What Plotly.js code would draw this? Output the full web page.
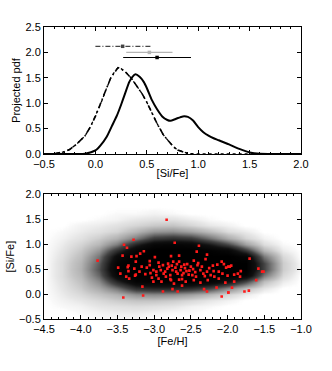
<!DOCTYPE html>
<html>
<head>
<meta charset="utf-8">
<script src="https://cdn.plot.ly/plotly-3.0.1.min.js"></script>
<style>html,body{margin:0;padding:0;background:#fff;}#chart{width:332px;height:371px;}</style>
</head>
<body>
<div id="chart"></div>
<script>
// ---------- Top panel: projected pdfs ----------
var solidX = [-0.5,-0.2,-0.1,0.0,0.05,0.11,0.16,0.21,0.25,0.29,0.33,0.36,0.39,0.43,0.47,0.5,0.55,0.6,0.65,0.7,0.73,0.78,0.85,0.9,0.95,1.0,1.05,1.1,1.15,1.2,1.3,1.4,1.5,1.6,1.7,2.0];
var solidY = [0,0,0.005,0.07,0.17,0.34,0.55,0.76,0.97,1.2,1.42,1.52,1.57,1.52,1.42,1.3,1.06,0.88,0.74,0.67,0.655,0.69,0.74,0.73,0.66,0.53,0.43,0.36,0.31,0.27,0.19,0.1,0.03,0.003,0,0];

var dashX = [-0.4,-0.31,-0.25,-0.18,-0.1,-0.05,0.0,0.05,0.1,0.15,0.19,0.22,0.25,0.3,0.35,0.4,0.45,0.5,0.56,0.6,0.66,0.71,0.76,0.8,0.86,0.9,0.95];
var dashY = [0.005,0.04,0.09,0.2,0.36,0.53,0.74,0.98,1.25,1.5,1.63,1.70,1.68,1.6,1.49,1.34,1.2,1.02,0.76,0.6,0.38,0.25,0.14,0.08,0.03,0.01,0];

var dotX = [-0.5,-0.4,-0.31,-0.25,-0.18,-0.1,-0.05,0.0,0.05,0.1,0.15,0.19,0.22,0.25,0.3,0.35,0.4,0.45,0.5,0.56,0.6,0.66,0.71,0.76,0.8,0.86,0.9,1.0,2.0];
var dotY = [0,0.005,0.04,0.09,0.2,0.36,0.53,0.74,0.98,1.25,1.5,1.63,1.70,1.68,1.6,1.49,1.34,1.2,1.02,0.76,0.6,0.38,0.25,0.14,0.08,0.03,0.01,0,0];

// error bars (centre, low, high, level)
var errCenter = [0.265, 0.525, 0.60];
var errLow    = [0.0, 0.30, 0.27];
var errHigh   = [0.55, 0.75, 0.93];
var errLevel  = [2.12, 2.0, 1.9];
var errColor  = ['#444444', '#b4b4b4', '#000000'];
var errDash   = ['dashdot', 'solid', 'solid'];

// ---------- Bottom panel: density of the black cloud ----------
var gridFeH = [-4.5,-4.25,-4.0,-3.75,-3.5,-3.25,-3.0,-2.75,-2.5,-2.25,-2.0,-1.75,-1.5,-1.25,-1.0];
var gridSiFe = [-0.5,-0.375,-0.25,-0.125,0.0,0.125,0.25,0.375,0.5,0.625,0.75,0.875,1.0,1.125,1.25,1.375,1.5,1.625,1.75,1.875,2.0];
// rows follow gridSiFe, columns follow gridFeH
var density = [
 [0.00,0.00,0.00,0.01,0.01,0.01,0.00,0.00,0.00,0.00,0.00,0.00,0.00,0.00,0.00],
 [0.00,0.00,0.01,0.02,0.03,0.03,0.02,0.01,0.01,0.00,0.00,0.00,0.00,0.00,0.00],
 [0.00,0.01,0.02,0.04,0.05,0.06,0.05,0.04,0.02,0.01,0.00,0.00,0.00,0.00,0.00],
 [0.00,0.02,0.04,0.07,0.10,0.12,0.12,0.10,0.07,0.04,0.02,0.00,0.00,0.00,0.00],
 [0.00,0.03,0.07,0.12,0.18,0.28,0.30,0.28,0.23,0.16,0.08,0.03,0.00,0.00,0.00],
 [0.00,0.04,0.10,0.20,0.36,0.60,0.65,0.65,0.60,0.50,0.30,0.13,0.04,0.00,0.00],
 [0.00,0.05,0.13,0.30,0.65,0.92,0.97,0.97,0.97,0.92,0.78,0.50,0.14,0.03,0.00],
 [0.00,0.06,0.16,0.40,0.88,1.00,1.00,1.00,1.00,1.00,1.00,0.92,0.35,0.07,0.00],
 [0.00,0.06,0.18,0.46,0.95,1.00,1.00,1.00,1.00,1.00,1.00,1.00,0.50,0.10,0.01],
 [0.00,0.06,0.17,0.43,0.92,1.00,1.00,1.00,1.00,1.00,1.00,1.00,0.50,0.10,0.01],
 [0.00,0.05,0.14,0.36,0.82,1.00,1.00,1.00,1.00,1.00,1.00,0.92,0.35,0.07,0.00],
 [0.00,0.04,0.11,0.26,0.60,0.92,1.00,1.00,1.00,0.97,0.88,0.55,0.16,0.03,0.00],
 [0.00,0.03,0.08,0.16,0.34,0.66,0.88,0.92,0.88,0.72,0.50,0.23,0.06,0.01,0.00],
 [0.00,0.02,0.05,0.10,0.18,0.34,0.55,0.60,0.55,0.38,0.20,0.08,0.02,0.00,0.00],
 [0.00,0.01,0.03,0.05,0.08,0.16,0.26,0.28,0.22,0.14,0.06,0.03,0.00,0.00,0.00],
 [0.00,0.00,0.02,0.03,0.05,0.08,0.11,0.12,0.08,0.04,0.02,0.00,0.00,0.00,0.00],
 [0.00,0.00,0.00,0.01,0.02,0.04,0.05,0.05,0.03,0.01,0.00,0.00,0.00,0.00,0.00],
 [0.00,0.00,0.00,0.00,0.01,0.01,0.02,0.01,0.00,0.00,0.00,0.00,0.00,0.00,0.00],
 [0.00,0.00,0.00,0.00,0.00,0.00,0.00,0.00,0.00,0.00,0.00,0.00,0.00,0.00,0.00],
 [0.00,0.00,0.00,0.00,0.00,0.00,0.00,0.00,0.00,0.00,0.00,0.00,0.00,0.00,0.00],
 [0.00,0.00,0.00,0.00,0.00,0.00,0.00,0.00,0.00,0.00,0.00,0.00,0.00,0.00,0.00]
];

// red stars
var redFeH = [-3.77,-3.41,-3.37,-3.43,-3.28,-3.31,-3.24,-3.19,-3.14,-3.06,-2.99,-2.94,-2.88,-3.49,-3.46,-3.35,-3.35,-3.27,-3.38,-3.25,
 -3.17,-3.10,-3.06,-3.01,-2.97,-2.91,-2.87,-3.03,-2.94,-2.90,-3.01,-3.16,-3.42,-3.15,-2.88,-3.26,-3.36,-3.34,-3.25,-3.12,
 -2.83,-2.72,-2.39,-2.42,-2.28,-2.30,-2.77,-2.66,-2.81,-2.74,-2.66,-2.59,-2.46,-2.50,-2.41,-2.14,-2.08,-2.02,-1.99,-2.82,
 -2.75,-2.71,-2.64,-2.56,-2.53,-2.62,-2.68,-2.78,-2.84,-2.37,-2.33,-2.28,-2.23,-2.18,-2.07,-2.00,-2.77,-2.66,-2.57,-2.46,
 -2.37,-2.27,-2.12,-2.03,-2.73,-2.62,-2.75,-2.68,-2.32,-2.28,-2.15,-2.08,-1.99,-2.48,-2.43,-2.19,
 -1.97,-1.95,-1.70,-1.91,-1.82,-1.86,-1.58,-1.53,-1.83,-1.91,-1.61,-1.94,-1.99,-1.77,-1.71,-1.51,
 -2.85,-2.80,-2.76,-2.70,-2.69,-2.63,-2.60,-2.58,-2.55,-2.52,-2.47,-2.44,-2.40,-2.35,-2.31,-2.25,-2.20,-2.12,-2.05,-2.93,
 -2.97,-3.05,-3.20,-2.78,-2.62];
var redSiFe = [0.67,0.99,0.93,0.77,1.09,0.75,0.76,0.81,0.86,0.66,0.74,0.63,0.58,0.53,0.41,0.57,0.46,0.51,0.35,0.39,
 0.55,0.53,0.58,0.48,0.45,0.48,0.41,0.33,0.31,0.25,0.25,0.15,-0.07,-0.03,0.05,0.37,0.54,0.31,0.65,0.40,
 1.49,1.03,0.97,0.85,0.79,0.70,0.76,0.77,0.61,0.65,0.65,0.59,0.67,0.55,0.58,0.59,0.65,0.53,0.55,0.51,
 0.48,0.53,0.48,0.46,0.39,0.38,0.41,0.38,0.35,0.48,0.41,0.45,0.38,0.35,0.41,0.37,0.28,0.29,0.25,0.28,
 0.23,0.28,0.31,0.23,0.21,0.17,0.10,0.05,0.10,0.05,0.13,-0.05,0.03,0.38,0.35,0.46,
 0.55,0.57,0.71,0.39,0.46,0.41,0.51,0.45,0.35,0.25,0.28,0.13,0.03,0.05,0.07,0.45,
 0.45,0.55,0.57,0.45,0.60,0.55,0.42,0.52,0.60,0.47,0.50,0.44,0.62,0.55,0.36,0.52,0.57,0.45,0.60,0.55,
 0.38,0.42,0.45,0.30,0.30];

var topXTicks = [-0.5,0.0,0.5,1.0,1.5,2.0];
var topYTicks = [0.0,0.5,1.0,1.5,2.0,2.5];
var botXTicks = [-4.5,-4.0,-3.5,-3.0,-2.5,-2.0,-1.5,-1.0];
var botYTicks = [-0.5,0.0,0.5,1.0,1.5,2.0];

var traces = [];
traces.push({type:'scatter', mode:'lines', x:dotX, y:dotY, xaxis:'x', yaxis:'y',
  line:{color:'#000', width:1.3, dash:'dot'}, hoverinfo:'skip'});
traces.push({type:'scatter', mode:'lines', x:dashX, y:dashY, xaxis:'x', yaxis:'y',
  line:{color:'#000', width:1.6, dash:'6px,3px,1.5px,3px'}, hoverinfo:'skip'});
traces.push({type:'scatter', mode:'lines', x:solidX, y:solidY, xaxis:'x', yaxis:'y',
  line:{color:'#000', width:2, shape:'spline', smoothing:0.6}, hoverinfo:'skip'});
for (var i=0;i<errCenter.length;i++){
  traces.push({type:'scatter', mode:'lines', x:[errLow[i], errHigh[i]], y:[errLevel[i], errLevel[i]],
    xaxis:'x', yaxis:'y', line:{color:errColor[i], width:1.2, dash:errDash[i]=='dashdot'?'5px,2px,1px,2px':'solid'}, hoverinfo:'skip'});
  traces.push({type:'scatter', mode:'markers', x:[errCenter[i]], y:[errLevel[i]], xaxis:'x', yaxis:'y',
    marker:{symbol:'square', size:3.5, color:errColor[i], line:{width:0}}, hoverinfo:'skip'});
}
traces.push({type:'heatmap', x:gridFeH, y:gridSiFe, z:density, xaxis:'x2', yaxis:'y2',
  zmin:0, zmax:1, zsmooth:'best', showscale:false, hoverinfo:'skip',
  colorscale:[[0,'rgba(255,255,255,0)'],[0.008,'#fafafa'],[0.04,'#e6e6e6'],[0.12,'#c4c4c4'],[0.3,'#8a8a8a'],[0.5,'#444444'],[0.75,'#101010'],[1,'#000000']]});
traces.push({type:'scatter', mode:'markers', x:redFeH, y:redSiFe, xaxis:'x2', yaxis:'y2',
  marker:{symbol:'square', size:2.6, color:'#ff1a1a', line:{width:0}}, hoverinfo:'skip'});

var font = {family:'Liberation Sans, Arial, sans-serif', size:11, color:'#000'};
function ax(extra){
  var a = {showgrid:false, zeroline:false, showline:true, linecolor:'#000', linewidth:1, mirror:'allticks',
    ticks:'inside', ticklen:4, tickwidth:1, tickcolor:'#000', tickfont:font, tickformat:'.1f', tickmode:'array'};
  for (var k in extra) a[k]=extra[k];
  return a;
}
var minorX = {ticks:'inside', ticklen:2, tickwidth:1, tickcolor:'#000', dtick:0.1, showgrid:false};

var layout = {
  width:332, height:371,
  margin:{l:44, r:31, t:27, b:52},
  paper_bgcolor:'#fff', plot_bgcolor:'#fff',
  showlegend:false, font:font,
  xaxis: ax({domain:[0,1], anchor:'y', range:[-0.5,2.0], tickvals:topXTicks, minor:minorX,
    title:{text:'[Si/Fe]', font:font, standoff:0}}),
  yaxis: ax({domain:[0.565,1], anchor:'x', range:[0,2.5], tickvals:topYTicks,
    title:{text:'Projected pdf', font:font, standoff:2}}),
  xaxis2: ax({domain:[0,1], anchor:'y2', range:[-4.5,-1.0], tickvals:botXTicks, minor:minorX,
    title:{text:'[Fe/H]', font:font, standoff:0}}),
  yaxis2: ax({domain:[0,0.427], anchor:'x2', range:[-0.5,2.0], tickvals:botYTicks,
    title:{text:'[Si/Fe]', font:font, standoff:2}})
};

Plotly.newPlot('chart', traces, layout, {staticPlot:true, displayModeBar:false});
</script>
</body>
</html>
